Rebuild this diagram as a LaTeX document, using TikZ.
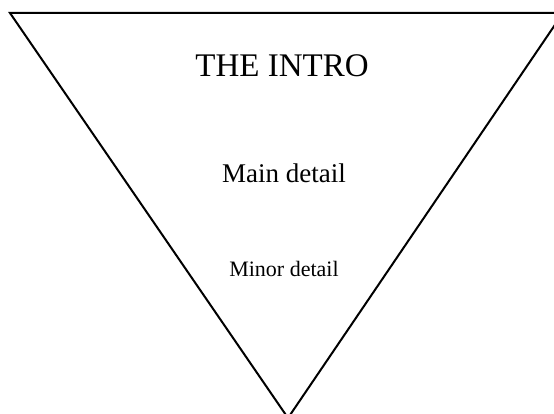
\documentclass[tikz,border=0pt]{standalone}
\usepackage{fontspec}
\setmainfont{Liberation Serif}
\begin{document}
\begin{tikzpicture}[x=1pt,y=1pt,
  edge/.style={line width=2pt,line join=miter},
  label/.style={anchor=base,inner sep=0pt,text=black}]
\useasboundingbox (0,0) rectangle (554,414);
\clip (0,0) rectangle (554,414);
\coordinate (tl) at (10,401);
\coordinate (tr) at (563,401);
\coordinate (tip) at (288,-4);
\draw[edge] (tl) -- (tr) -- (tip) -- cycle;
\node[label,font=\fontsize{33}{36}\selectfont] (intro) at (282,337) {THE INTRO};
\node[label,font=\fontsize{27}{30}\selectfont] (main) at (284,231) {Main detail};
\node[label,font=\fontsize{22}{25}\selectfont] (minor) at (284,137) {Minor detail};
\end{tikzpicture}
\end{document}
